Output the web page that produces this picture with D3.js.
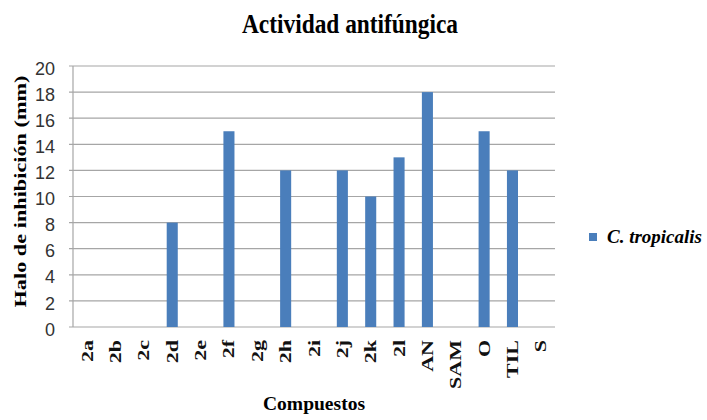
<!DOCTYPE html>
<html>
<head>
<meta charset="utf-8">
<script src="https://cdn.jsdelivr.net/npm/d3@7"></script>
<style>
  body { margin: 0; background: #fff; }
</style>
</head>
<body>
<div id="chart"></div>
<script>
// values
var compuestos = ["2a","2b","2c","2d","2e","2f","2g","2h","2i","2j","2k","2l","AN","SAM","O","TIL","S"];
var halo = [0,0,0,8,0,15,0,12,0,12,10,13,18,0,15,12,0];
var yTicks = [0,2,4,6,8,10,12,14,16,18,20];
var serieName = "C. tropicalis";

var width = 707, height = 420;
var margin = {top: 66, right: 152, bottom: 93, left: 73};
var w = width - margin.left - margin.right,
    h = height - margin.top - margin.bottom;
var serif = "'Liberation Serif', 'Times New Roman', serif";
var squeeze = 0.75; // the source picture looks squeezed sideways

var svg = d3.select("#chart").append("svg")
    .attr("width", width)
    .attr("height", height);

var g = svg.append("g")
    .attr("transform", "translate(" + margin.left + "," + margin.top + ")");

var x = d3.scaleBand().domain(compuestos).range([0, w]).paddingInner(0.61).paddingOuter(0.305);
var y = d3.scaleLinear().domain([0, 20]).range([h, 0]);

// gridlines
g.selectAll(".grid").data(yTicks).enter().append("line")
    .attr("class", "grid")
    .attr("x1", -4).attr("x2", w)
    .attr("y1", function(d) { return y(d); })
    .attr("y2", function(d) { return y(d); })
    .style("stroke", "#a6a6a6")
    .style("stroke-width", 1.2);

// bars
g.selectAll(".bar").data(halo).enter().append("rect")
    .attr("class", "bar")
    .attr("x", function(d, i) { return x(compuestos[i]); })
    .attr("width", x.bandwidth())
    .attr("y", function(d) { return y(d); })
    .attr("height", function(d) { return h - y(d); })
    .style("fill", "#4a7ebb");

// y axis
var yAxis = g.append("g")
    .call(d3.axisLeft(y).tickValues(yTicks).tickSize(0).tickPadding(18));
yAxis.select(".domain").remove();
yAxis.selectAll("text")
    .attr("dy", "0.45em")
    .style("font-family", "'Liberation Sans', Arial, sans-serif")
    .style("font-size", "18px")
    .style("fill", "#333");
g.append("line")
    .attr("x1", 0).attr("x2", 0).attr("y1", 0).attr("y2", h)
    .style("stroke", "#a6a6a6").style("stroke-width", 1.2);

// x labels, rotated
var xlab = svg.selectAll(".xlab").data(compuestos).enter().append("g")
    .attr("class", "xlab")
    .attr("transform", function(d) {
      return "translate(" + (margin.left + x(d) + x.bandwidth() / 2 + 5.5) + "," + (margin.top + h + 13) + ") scale(" + squeeze + ",1)";
    });
xlab.append("text")
    .attr("transform", "rotate(-90)")
    .attr("text-anchor", "end")
    .style("font-family", serif)
    .style("font-weight", "bold")
    .style("font-size", "22px")
    .style("fill", "#111")
    .text(function(d) { return d; });

// title
svg.append("text")
    .attr("x", 350).attr("y", 33)
    .attr("text-anchor", "middle")
    .attr("textLength", 216)
    .attr("lengthAdjust", "spacingAndGlyphs")
    .style("font-family", serif)
    .style("font-weight", "bold")
    .style("font-size", "27px")
    .text("Actividad antifúngica");

// axis titles
svg.append("g")
    .attr("transform", "translate(26," + (margin.top + h / 2 - 5) + ") scale(" + squeeze + ",1)")
  .append("text")
    .attr("transform", "rotate(-90)")
    .attr("text-anchor", "middle")
    .attr("textLength", 232)
    .attr("lengthAdjust", "spacingAndGlyphs")
    .style("font-family", serif)
    .style("font-weight", "bold")
    .style("font-size", "22px")
    .text("Halo de inhibición (mm)");

svg.append("text")
    .attr("x", 314).attr("y", 410)
    .attr("text-anchor", "middle")
    .attr("textLength", 102)
    .attr("lengthAdjust", "spacingAndGlyphs")
    .style("font-family", serif)
    .style("font-weight", "bold")
    .style("font-size", "19px")
    .text("Compuestos");

// legend
var legend = svg.append("g").attr("transform", "translate(589,233)");
legend.append("rect")
    .attr("width", 8).attr("height", 8)
    .style("fill", "#4a7ebb");
legend.append("text")
    .attr("x", 18).attr("y", 10)
    .attr("textLength", 95)
    .attr("lengthAdjust", "spacingAndGlyphs")
    .style("font-family", serif)
    .style("font-weight", "bold")
    .style("font-style", "italic")
    .style("font-size", "18px")
    .text(serieName);
</script>
</body>
</html>
